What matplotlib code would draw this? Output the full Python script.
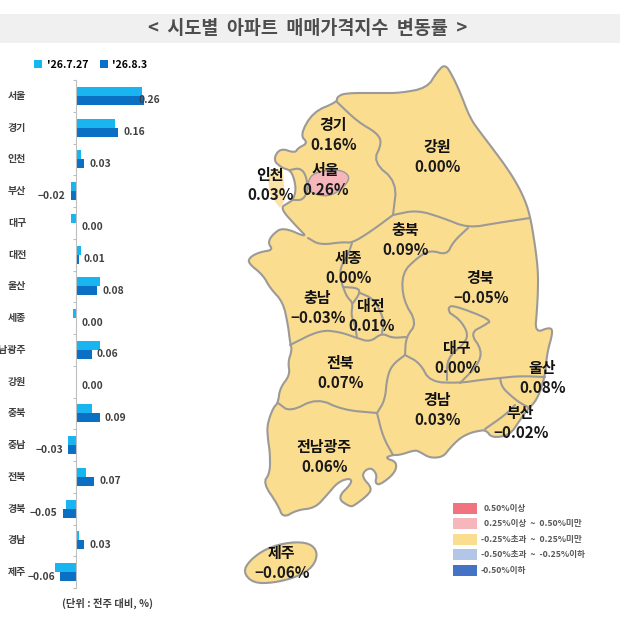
import matplotlib
matplotlib.use('Agg')
import matplotlib.pyplot as plt
from matplotlib.patches import Polygon, Rectangle

# bar chart data
regions = ['서울', '경기', '인천', '부산', '대구', '대전', '울산', '세종',
           '전남광주', '강원', '충북', '충남', '전북', '경북', '경남', '제주']
prev_week = [0.25, 0.15, 0.02, -0.02, -0.02, 0.02, 0.09, -0.01,
             0.09, 0.00, 0.06, -0.03, 0.04, -0.04, 0.01, -0.08]
this_week = [0.26, 0.16, 0.03, -0.02, 0.00, 0.01, 0.08, 0.00,
             0.06, 0.00, 0.09, -0.03, 0.07, -0.05, 0.03, -0.06]
dates = ["'26.7.27", "'26.8.3"]

# map legend
legend_labels = ['0.50%이상', '0.25%이상 ~ 0.50%미만', '-0.25%초과 ~ 0.25%미만',
                 '-0.50%초과 ~ -0.25%이하', '-0.50%이하']
legend_colors = ['#F0737F', '#F5B6BC', '#FBDD90', '#B3C6E7', '#4472C4']

# map shapes, in pixels of the 620x620 picture
mainland = [(445, 64), (452, 75), (460, 92), (470, 118), (480, 132), (490, 145),
            (510, 172), (523, 195), (530, 215), (535, 245), (538, 270), (538, 290),
            (537, 310), (535, 333), (550, 327), (553, 332), (547, 353), (545, 377),
            (537, 400), (527, 410), (520, 420), (510, 435), (492, 438), (486, 430),
            (478, 431), (470, 433), (460, 438), (450, 448), (443, 457), (430, 458),
            (420, 452), (415, 450), (400, 455), (392, 455), (385, 458), (397, 462),
            (395, 473), (380, 485), (375, 483), (377, 475), (372, 468), (365, 470),
            (362, 477), (372, 488), (368, 495), (355, 505), (350, 507), (337, 498),
            (352, 483), (350, 478), (338, 482), (327, 495), (315, 508), (297, 510),
            (283, 518), (278, 505), (263, 483), (270, 473), (270, 453), (268, 440),
            (267, 425), (273, 408), (278, 403), (280, 388), (290, 375), (288, 362),
            (292, 350), (290, 342), (288, 325), (283, 302), (270, 288), (263, 275),
            (248, 263), (250, 257), (260, 252), (273, 250), (268, 243), (272, 235),
            (283, 227), (308, 238), (297, 227), (280, 208), (288, 203), (293, 200),
            (296, 190), (294, 178), (290, 170), (282, 168), (273, 160),
            (280, 148), (295, 153), (298, 148), (308, 143), (300, 135), (313, 112),
            (337, 102), (337, 97), (345, 93), (380, 93), (400, 93), (427, 88),
            (437, 72)]
jeju = [(243, 572), (250, 560), (267, 548), (290, 542), (310, 543), (318, 553),
        (313, 567), (297, 577), (273, 583), (253, 583)]
seoul = [(307, 183), (314, 172), (340, 169), (351, 177), (342, 189), (328, 197),
         (310, 193)]
incheon_island = [(268, 178), (272, 170), (283, 170), (284, 185), (285, 200),
                  (280, 208), (270, 195)]
borders = [
    [(337, 102), (358, 122), (377, 133), (382, 143), (373, 162), (397, 182), (393, 215)],
    [(308, 238), (320, 245), (343, 242), (352, 243), (370, 232), (393, 215)],
    [(393, 215), (417, 210), (443, 218), (468, 228), (497, 223), (530, 218)],
    [(468, 228), (453, 242), (447, 255), (430, 250), (417, 258), (402, 273), (403, 300),
     (417, 323), (406, 337), (405, 355)],
    [(352, 243), (348, 255), (340, 268), (341, 280), (343, 287), (347, 297), (353, 303),
     (351, 315), (355, 325), (357, 338)],
    [(343, 287), (358, 288), (360, 293), (353, 303)],
    [(360, 293), (372, 298), (380, 310), (384, 322), (382, 333)],
    [(290, 345), (320, 330), (340, 332), (357, 338), (370, 342), (382, 333), (392, 338),
     (406, 337)],
    [(405, 355), (392, 365), (387, 378), (385, 400), (377, 413)],
    [(278, 403), (290, 412), (317, 398), (343, 410), (377, 413)],
    [(377, 413), (383, 437), (393, 455)],
    [(405, 355), (420, 363), (430, 382), (460, 383), (480, 380), (500, 378), (520, 376),
     (545, 377)],
    [(500, 378), (502, 387), (510, 395), (520, 403), (530, 408)],
    [(515, 405), (505, 415), (485, 429)],
    [(450, 313), (448, 308), (453, 305), (492, 320), (485, 325), (470, 333), (482, 350),
     (478, 365), (460, 383)],
    [(450, 313), (460, 320), (468, 333), (465, 343), (447, 358), (447, 380)],
    [(290, 170), (300, 168), (306, 175), (308, 190), (303, 200), (293, 200)],
]

# map texts
map_names = ['경기', '강원', '인천', '서울', '충북', '세종', '충남', '대전',
             '경북', '대구', '울산', '경남', '부산', '전북', '전남광주', '제주']
map_x = [333, 437, 270, 325, 405, 348, 317, 371, 480, 457, 542, 437, 520, 340, 324, 281]
map_y = [125, 147, 175, 170, 230, 258, 298, 306, 278, 348, 368, 400, 413, 363, 447, 553]

KR = 'Noto Sans CJK KR'
FILL = '#FBDD90'
EDGE = '#9C9A96'


def smooth(points, closed=False):
    # two rounds of corner cutting, the traced points are rough
    pts = list(points)
    for _ in range(2):
        new = []
        n = len(pts)
        for i in range(n if closed else n - 1):
            a, b = pts[i], pts[(i + 1) % n]
            new.append((0.75 * a[0] + 0.25 * b[0], 0.75 * a[1] + 0.25 * b[1]))
            new.append((0.25 * a[0] + 0.75 * b[0], 0.25 * a[1] + 0.75 * b[1]))
        if not closed:
            new = [pts[0]] + new + [pts[-1]]
        pts = new
    return pts


def fmt(value):
    return f'{value:.2f}'.replace('-', '\u2212')


def draw_bars(fig):
    ax = fig.add_axes([0, 1 - 588 / 620, 210 / 620, 508 / 620])
    ax.patch.set_alpha(0)
    ax.set_xlim(-76 / 262, 134 / 262)
    ax.set_ylim(len(regions), 0)

    centers = [i + 0.5 for i in range(len(regions))]
    ax.barh([c - 0.14 for c in centers], prev_week, height=0.28, color='#19B5F1',
            label=dates[0])
    ax.barh([c + 0.14 for c in centers], this_week, height=0.28, color='#0B6FC4',
            label=dates[1])

    for c, name, value in zip(centers, regions, this_week):
        ax.text(-0.19, c, name, ha='right', va='center', fontsize=7.2,
                family=KR, weight='bold', color='#404040')
        if name == '서울':
            x, ha = value - 0.02, 'left'
        elif value < 0:
            x, ha = value - 0.02, 'right'
        else:
            x, ha = value + 0.02, 'left'
        ax.text(x, c + 0.14, fmt(value), ha=ha, va='center', fontsize=7.4,
                family=KR, weight='bold', color='#404040')

    for side in ['top', 'right', 'bottom']:
        ax.spines[side].set_visible(False)
    ax.spines['left'].set_position(('data', 0))
    ax.spines['left'].set_color('#BFBFBF')
    ax.set_xticks([])
    ax.set_yticks(range(len(regions) + 1))
    ax.set_yticklabels([])
    ax.tick_params(axis='y', direction='out', length=2.5, color='#BFBFBF')

    handles, labels = ax.get_legend_handles_labels()
    ax.legend(handles, labels, ncol=2, frameon=False, loc='lower left',
              bbox_to_anchor=(34 / 210, 1.02), borderaxespad=0, borderpad=0,
              handlelength=0.8, handleheight=0.8, handletextpad=0.4, columnspacing=1.1,
              prop={'family': KR, 'weight': 'bold', 'size': 7.6})


def draw_map(ax):
    ax.add_patch(Polygon(incheon_island, closed=True, fc='#FBE3A8', ec='none'))
    ax.add_patch(Polygon(smooth(mainland, True), closed=True, fc=FILL, ec=EDGE, lw=1.5,
                         joinstyle='round'))
    ax.add_patch(Polygon(smooth(jeju, True), closed=True, fc=FILL, ec=EDGE, lw=1.5))
    ax.add_patch(Polygon(smooth(seoul, True), closed=True, fc='#F5B6BC', ec=EDGE, lw=1.0))
    for line in borders:
        pts = smooth(line)
        ax.plot([p[0] for p in pts], [p[1] for p in pts], color=EDGE, lw=1.5,
                solid_capstyle='round')

    lookup = dict(zip(regions, this_week))
    for name, x, y in zip(map_names, map_x, map_y):
        ax.text(x, y, name, ha='center', va='center', fontsize=10.8, family=KR,
                weight='bold', color='#111111')
        ax.text(x + 1, y + 20, fmt(lookup[name]) + '%', ha='center', va='center',
                fontsize=11, family=KR, weight='bold', color='#1A1A1A')


def draw_map_legend(ax):
    for i, (label, color) in enumerate(zip(legend_labels, legend_colors)):
        y = 503 + i * 15.4
        ax.add_patch(Rectangle((453, y), 24, 11, fc=color, ec='none'))
        x = 481 if label.startswith('-') else 484
        ax.text(x, y + 5.5, label.replace(' ~ ', '  ~  '), ha='left', va='center',
                fontsize=6.2, family=KR, weight='bold', color='#595959')


def main():
    fig = plt.figure(figsize=(6.2, 6.2), dpi=100)

    base = fig.add_axes([0, 0, 1, 1])
    base.set_xlim(0, 620)
    base.set_ylim(620, 0)
    base.axis('off')

    base.add_patch(Rectangle((0, 14), 620, 29, fc='#F0F0F0', ec='none'))
    base.text(308, 28.5, '<  시도별  아파트  매매가격지수  변동률  >', ha='center', va='center',
              fontsize=13.3, family=KR, weight='bold', color='#4D4D4D')
    base.text(107, 603, '(단위 : 전주 대비, %)', ha='center', va='center', fontsize=7.4,
              family=KR, weight='bold', color='#404040')

    draw_map(base)
    draw_map_legend(base)
    draw_bars(fig)

    fig.savefig('out.png', dpi=100)


if __name__ == '__main__':
    main()
